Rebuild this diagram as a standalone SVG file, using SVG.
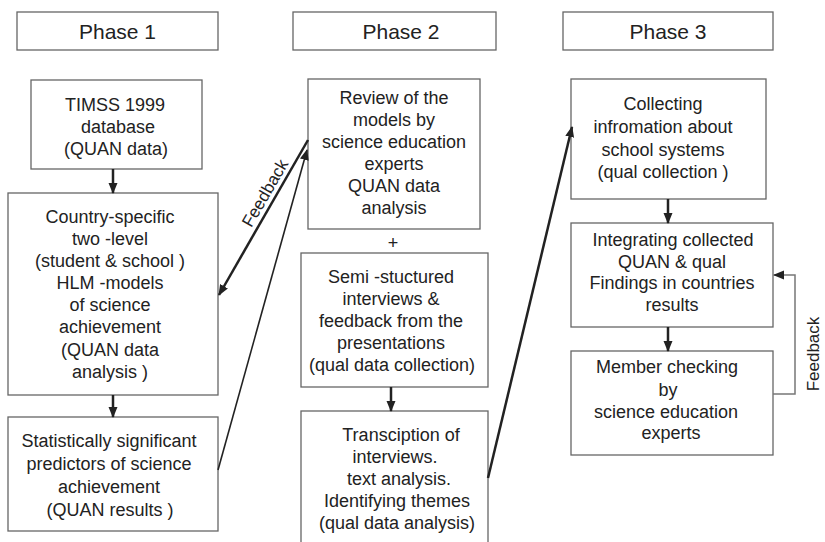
<svg xmlns="http://www.w3.org/2000/svg" width="825" height="542" viewBox="0 0 825 542">
<defs>
<style>
.box{fill:#fff;stroke:#666;stroke-width:1.3}
.t{font-family:"Liberation Sans",Arial,sans-serif;font-size:18px;fill:#222;text-anchor:middle}
.h{font-size:21px}
.fb{font-size:17px}
.arr{stroke:#222;stroke-width:2.5;fill:none}
.thin{stroke:#222;stroke-width:1.6;fill:none}
.gray{stroke:#777;stroke-width:1.5;fill:none}
</style>
<marker id="ah" markerUnits="userSpaceOnUse" markerWidth="12" markerHeight="10" refX="10" refY="4.5" orient="auto">
<path d="M0,0 L11,4.5 L0,9 Z" fill="#222"/>
</marker>
</defs>
<rect width="825" height="542" fill="#fff"/>

<g id="phase1"><rect class="box" x="17" y="12" width="201" height="38"/><text class="t h" x="117.5" y="38.5">Phase 1</text></g>
<g id="phase2"><rect class="box" x="293" y="12" width="203" height="38"/><text class="t h" x="401" y="38.5">Phase 2</text></g>
<g id="phase3"><rect class="box" x="563" y="12" width="210" height="38"/><text class="t h" x="668" y="38.5">Phase 3</text></g>

<g id="timss"><rect class="box" x="31" y="80" width="171" height="89"/>
<text class="t" x="115"><tspan x="115" y="111">TIMSS 1999</tspan><tspan x="118" y="133">database</tspan><tspan x="116" y="155">(QUAN data)</tspan></text></g>

<g id="country"><rect class="box" x="8" y="193" width="210" height="202"/>
<text class="t"><tspan x="110" y="223">Country-specific</tspan><tspan x="110" y="245">two -level</tspan><tspan x="110" y="267">(student &amp; school )</tspan><tspan x="110" y="289">HLM -models</tspan><tspan x="110" y="311">of science</tspan><tspan x="110" y="333">achievement</tspan><tspan x="110" y="356">(QUAN data</tspan><tspan x="110" y="378">analysis )</tspan></text></g>

<g id="stats"><rect class="box" x="8" y="417" width="210" height="114"/>
<text class="t"><tspan x="109" y="447">Statistically significant</tspan><tspan x="109" y="470">predictors of science</tspan><tspan x="109" y="493">achievement</tspan><tspan x="110" y="516">(QUAN results )</tspan></text></g>

<g id="review"><rect class="box" x="308" y="79" width="172" height="150"/>
<text class="t"><tspan x="394" y="104">Review of the</tspan><tspan x="394" y="126">models by</tspan><tspan x="394" y="148">science education</tspan><tspan x="394" y="170">experts</tspan><tspan x="394" y="192">QUAN data</tspan><tspan x="394" y="214">analysis</tspan></text></g>

<g id="plus"><text class="t" x="393" y="249">+</text></g>

<g id="semi"><rect class="box" x="301" y="253" width="187" height="134"/>
<text class="t"><tspan x="391" y="283">Semi -stuctured</tspan><tspan x="391" y="305">interviews &amp;</tspan><tspan x="391" y="327">feedback from the</tspan><tspan x="391" y="349">presentations</tspan><tspan x="392" y="371">(qual data collection)</tspan></text></g>

<g id="transcription"><rect class="box" x="301" y="411" width="187" height="140"/>
<text class="t"><tspan x="401" y="441">Transciption of</tspan><tspan x="395" y="463">interviews.</tspan><tspan x="399" y="485">text analysis.</tspan><tspan x="397" y="507">Identifying themes</tspan><tspan x="397" y="529">(qual data analysis)</tspan></text></g>

<g id="collecting"><rect class="box" x="571" y="79" width="195" height="120"/>
<text class="t"><tspan x="663" y="110">Collecting</tspan><tspan x="663" y="133">infromation about</tspan><tspan x="663" y="156">school systems</tspan><tspan x="663" y="178">(qual collection )</tspan></text></g>

<g id="integrating"><rect class="box" x="571" y="223" width="202" height="104"/>
<text class="t"><tspan x="673" y="246">Integrating collected</tspan><tspan x="672" y="268">QUAN &amp; qual</tspan><tspan x="672" y="289">Findings in countries</tspan><tspan x="672" y="311">results</tspan></text></g>

<g id="member"><rect class="box" x="571" y="351" width="202" height="104"/>
<text class="t"><tspan x="667" y="373">Member checking</tspan><tspan x="668" y="396">by</tspan><tspan x="666" y="418">science education</tspan><tspan x="671" y="439">experts</tspan></text></g>

<g id="connectors">
<line class="arr" x1="113" y1="169" x2="113" y2="193" marker-end="url(#ah)"/>
<line class="arr" x1="113" y1="395" x2="113" y2="417" marker-end="url(#ah)"/>
<line class="arr" x1="391" y1="387" x2="391" y2="411" marker-end="url(#ah)"/>
<line class="arr" x1="668" y1="199" x2="668" y2="223" marker-end="url(#ah)"/>
<line class="arr" x1="668" y1="327" x2="668" y2="351" marker-end="url(#ah)"/>
<line class="arr" x1="308" y1="140" x2="219" y2="295" marker-end="url(#ah)"/>
<line class="thin" x1="218" y1="470" x2="307" y2="150" marker-end="url(#ah)"/>
<line class="arr" x1="488" y1="478" x2="572" y2="127" marker-end="url(#ah)"/>
<polyline class="gray" points="773,394 795,394 795,275 774,275" marker-end="url(#ah)"/>
<text class="t fb" transform="translate(270,196) rotate(-60)" x="0" y="0">Feedback</text>
<text class="t fb" transform="translate(819,354) rotate(-90)" x="0" y="0">Feedback</text>
</g>
</svg>
